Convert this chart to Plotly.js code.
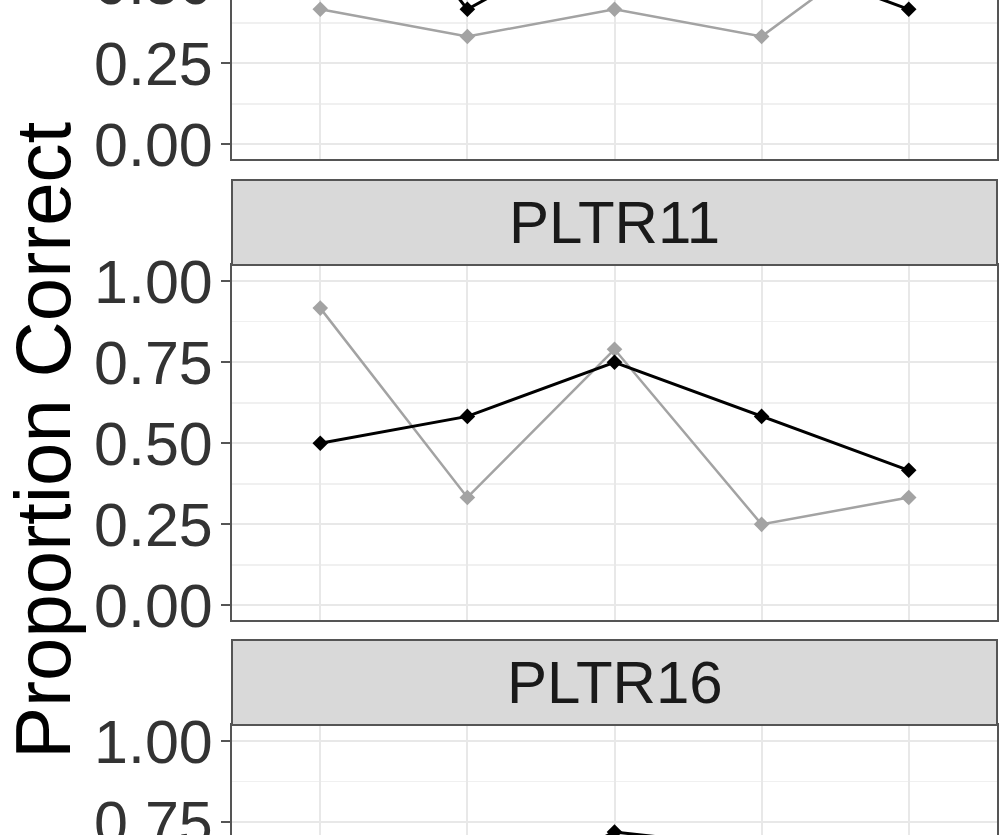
<!DOCTYPE html>
<html>
<head>
<meta charset="utf-8">
<script src="https://cdn.plot.ly/plotly-3.0.1.min.js"></script>
<style>
  html, body { margin: 0; padding: 0; width: 1000px; height: 835px; overflow: hidden; background: #ffffff; }
  #chart { position: absolute; left: 0; top: -210px; width: 1000px; height: 1300px; }
</style>
</head>
<body>
<div id="chart"></div>
<script>
// ---- data ----
const xCats = [1, 2, 3, 4, 5];

// upper (cropped) panel
const topBlack = [1.00, 0.4167, 0.667, 0.583, 0.4167];
const topGray  = [0.4167, 0.333, 0.4167, 0.333, 0.667];

// PLTR11
const p11Black = [0.50, 0.583, 0.75, 0.583, 0.4167];
const p11Gray  = [0.917, 0.333, 0.79, 0.25, 0.333];

// PLTR16 (only the top of the panel is visible)
const p16Black = [null, 0.50, 0.72, 0.67, null];

const stripLabels = ['PLTR11', 'PLTR16'];
const yTickVals = [0, 0.25, 0.5, 0.75, 1];
const yTickText = ['0.00', '0.25', '0.50', '0.75', '1.00'];
const yTitle = 'Proportion Correct';

// ---- style ----
const FONT = 'Liberation Sans, Arial, Helvetica, sans-serif';
const BLACK = '#000000';
const GRAY = '#A3A3A3';
const H = 1300;

function dom(topPx, botPx) { return [1 - botPx / H, 1 - topPx / H]; }

function lineTrace(y, color, width, xa, ya) {
  return {
    x: xCats, y: y, xaxis: xa, yaxis: ya,
    type: 'scatter', mode: 'lines+markers',
    line: { color: color, width: width },
    marker: { color: color, size: 12, symbol: 'diamond' },
    connectgaps: false, hoverinfo: 'skip'
  };
}

const data = [
  lineTrace(topGray, GRAY, 2.5, 'x', 'y'),
  lineTrace(topBlack, BLACK, 3, 'x', 'y'),
  lineTrace(p11Gray, GRAY, 2.5, 'x2', 'y2'),
  lineTrace(p11Black, BLACK, 3, 'x2', 'y2'),
  lineTrace(p16Black, BLACK, 3, 'x3', 'y3')
];

function xAxis(anchor) {
  return {
    domain: [0.232, 0.997], range: [0.4, 5.6], anchor: anchor,
    tickvals: xCats, showticklabels: false, ticks: '',
    showgrid: true, gridcolor: '#E8E8E8', gridwidth: 2,
    zeroline: false, showline: true, mirror: true, linecolor: '#555555', linewidth: 2,
    fixedrange: true
  };
}
function yAxis(domain, anchor) {
  return {
    domain: domain, range: [-0.045, 1.05], anchor: anchor,
    tickvals: yTickVals, ticktext: yTickText,
    tickfont: { family: FONT, size: 61, color: '#333333' },
    ticks: 'outside', ticklen: 9, tickwidth: 2, tickcolor: '#555555',
    ticklabelstandoff: -4,
    showgrid: true, gridcolor: '#E8E8E8', gridwidth: 2,
    minor: { tick0: 0, dtick: 0.125, showgrid: true, gridcolor: '#F0F0F0', gridwidth: 1.5, ticks: '' },
    zeroline: false, showline: true, mirror: true, linecolor: '#555555', linewidth: 2,
    fixedrange: true
  };
}

const stripFrac = 85 / 355;
const shapes = [];
const annotations = [];
['2', '3'].forEach(function (n, i) {
  shapes.push({
    type: 'rect', xref: 'x' + n + ' domain', yref: 'y' + n + ' domain',
    x0: 0, x1: 1, y0: 1, y1: 1 + stripFrac,
    fillcolor: '#D9D9D9', line: { color: '#555555', width: 2 }, layer: 'above'
  });
  annotations.push({
    text: stripLabels[i], xref: 'x' + n + ' domain', yref: 'y' + n + ' domain',
    x: 0.5, y: 1 + stripFrac / 2, xanchor: 'center', yanchor: 'middle',
    showarrow: false, font: { family: FONT, size: 60, color: '#1A1A1A' }
  });
});
annotations.push({
  text: yTitle, xref: 'paper', yref: 'paper', x: 0.043, y: 1 - (440 + 210) / H,
  xanchor: 'center', yanchor: 'middle', textangle: -90, showarrow: false,
  font: { family: FONT, size: 78, color: '#000000' }
});

const layout = {
  width: 1000, height: H,
  margin: { l: 0, r: 0, t: 0, b: 0 },
  paper_bgcolor: '#ffffff', plot_bgcolor: '#ffffff',
  showlegend: false,
  xaxis: xAxis('y'), xaxis2: xAxis('y2'), xaxis3: xAxis('y3'),
  yaxis: yAxis(dom(14, 369), 'x'),
  yaxis2: yAxis(dom(475, 830), 'x2'),
  yaxis3: yAxis(dom(935, 1290), 'x3'),
  shapes: shapes, annotations: annotations
};

Plotly.newPlot('chart', data, layout, { staticPlot: true, displayModeBar: false });
</script>
</body>
</html>
